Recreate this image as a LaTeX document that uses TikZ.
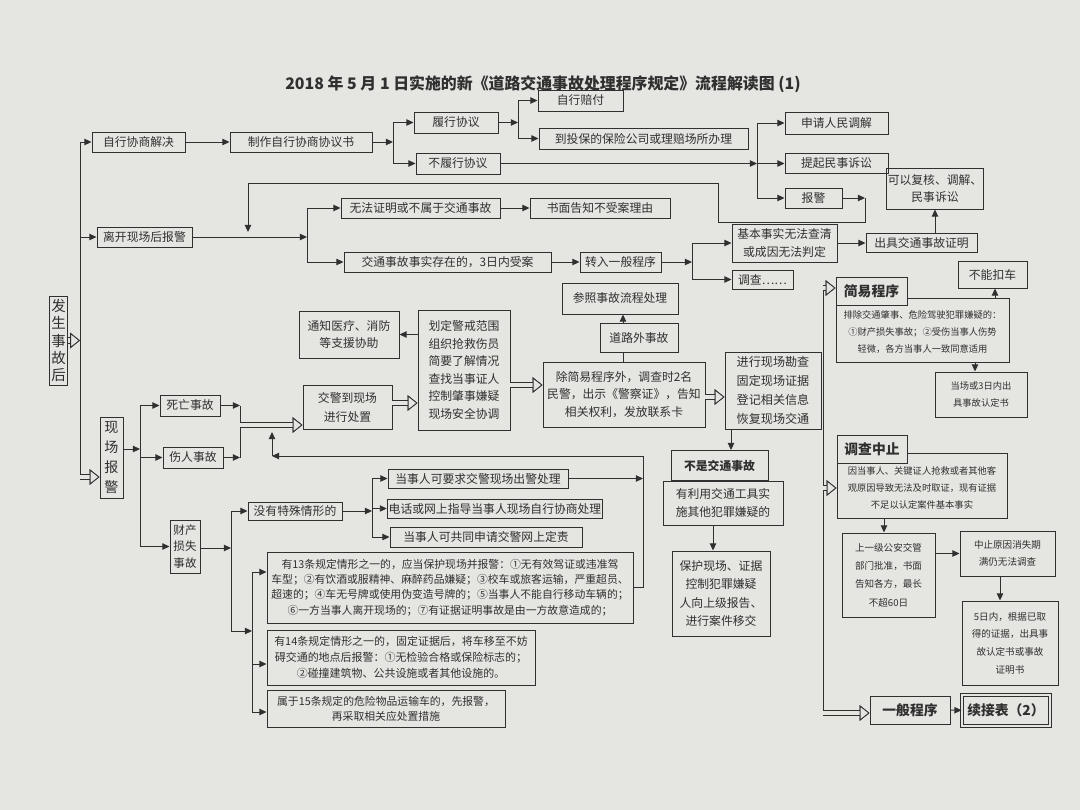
\documentclass[tikz,border=0pt]{standalone}
\usepackage{fontspec}
\setmainfont{Noto Sans CJK SC}
\usetikzlibrary{arrows.meta}

\definecolor{paper}{RGB}{229,229,226}
\definecolor{ink}{RGB}{48,48,48}

\newcommand\fs{\fontsize{8.4pt}{12.4pt}\selectfont}
\newcommand\fsm{\fontsize{7.7pt}{10.8pt}\selectfont}
\newcommand\fss{\fontsize{6.6pt}{12pt}\selectfont}
\newcommand\fsh{\fontsize{9.8pt}{12pt}\selectfont\bfseries}
\newcommand\fst{\fontsize{11.3pt}{13pt}\selectfont\bfseries}

\begin{document}
\begin{tikzpicture}[
    x=0.025cm, y=-0.025cm,
    box/.style={draw=ink, line width=0.7pt, text=ink, font=\fs, align=center,
                inner sep=1pt},
    sz/.style 2 args={minimum width=#1*0.025cm, minimum height=#2*0.025cm},
    head/.style={box, fill=paper, font=\fsh},
    small/.style={box, font=\fss},
    rule/.style={box, font=\fsm},
    vert/.style={box, font=\fontsize{10.3pt}{12.3pt}\selectfont},
    arr/.style={draw=ink, line width=0.7pt, -{Triangle[length=5pt,width=4.5pt]}},
    ln/.style={draw=ink, line width=0.7pt},
    hol/.style={draw=ink, line width=4.6pt,
                -{Triangle[open, fill=paper, color=ink, length=7pt, width=11pt, line width=0.6pt]},
                postaction={draw=paper, line width=3.4pt,
                -{Triangle[open, fill=paper, color=ink, length=7pt, width=11pt, line width=0.6pt]}}},
]
  \fill[paper] (0,0) rectangle (1080,810);
  \useasboundingbox (0,0) rectangle (1080,810);

  % Title
  \node[font=\fst, text=ink] (title) at (543,84)
    {2018 年 5 月 1 日实施的新《道路交通事故处理程序规定》流程解读图 (1)};

  % Start
  \node[vert, sz={17}{89}] (fs) at (58.5,340.5) {发\\生\\事\\故\\后};

  % Self negotiation
  \node[box, sz={93}{20}] (zx) at (138.5,142) {自行协商解决};
  \node[box, sz={142}{20}] (zz) at (301,142) {制作自行协商协议书};
  \node[box, sz={84}{21}] (lx) at (456,122.5) {履行协议};
  \node[box, sz={84}{21}] (blx) at (458,163.5) {不履行协议};
  \node[box, sz={85}{21}] (zxpf) at (580.5,100.5) {自行赔付};
  \node[box, sz={209}{21}] (bx) at (643.5,138.5) {到投保的保险公司或理赔场所办理};
  \node[box, sz={103}{22}] (tj) at (836.5,123) {申请人民调解};
  \node[box, sz={103}{20}] (ss) at (836.5,163.5) {提起民事诉讼};
  \node[box, sz={57}{20}] (bj) at (813.5,198) {报警};
  \node[box, sz={82}{41}] (fh) at (935,188.5) {可以复核、调解、\\民事诉讼};

  % Report after leaving
  \node[box, sz={95}{20}] (lk) at (144.5,237) {离开现场后报警};
  \node[box, sz={159}{20}] (wf) at (420.5,208) {无法证明或不属于交通事故};
  \node[box, sz={140}{20}] (sm) at (600,208) {书面告知不受案理由};
  \node[box, sz={207}{20}] (sa) at (447.5,262) {交通事故事实存在的，3日内受案};
  \node[box, sz={81}{20}] (zr) at (620.5,262) {转入一般程序};
  \node[box, sz={105}{38}] (jb) at (784.5,243) {基本事实无法查清\\或成因无法判定};
  \node[box, sz={61}{19}] (dc) at (762.5,279.5) {调查……};
  \node[box, sz={111}{19}] (zm) at (921.5,243) {出具交通事故证明};

  % Simple procedure
  \node[small, sz={173}{64}] (jyb) at (922.5,330)
    {\\[-3pt]排除交通肇事、危险驾驶犯罪嫌疑的：\\①财产损失事故；②受伤当事人伤势\\轻微，各方当事人一致同意适用};
  \node[head, sz={71}{28}] (jy) at (871.5,291) {简易程序};
  \node[box, sz={69}{27}] (bnk) at (992.5,274.5) {不能扣车};
  \node[small, sz={92}{45}] (dr) at (981,394.5) {当场或3日内出\\具事故认定书};

  % Suspended investigation
  \node[small, sz={170}{65}] (zzb) at (922,485.5)
    {\\[-3pt]因当事人、关键证人抢救或者其他客\\观原因导致无法及时取证，现有证据\\不足以认定案件基本事实};
  \node[head, sz={70}{28}] (zs) at (872,449) {调查中止};
  \node[small, sz={93}{84}, font=\fontsize{6.8pt}{13pt}\selectfont] (sj) at (888.5,575)
    {上一级公安交管\\部门批准，书面\\告知各方，最长\\不超60日};
  \node[small, sz={95}{45}, font=\fontsize{6.8pt}{12pt}\selectfont] (xs) at (1007.5,553.5)
    {中止原因消失期\\满仍无法调查};
  \node[small, sz={96}{84}, font=\fontsize{6.8pt}{12.6pt}\selectfont] (wr) at (1010,643)
    {5日内，根据已取\\得的证据，出具事\\故认定书或事故\\证明书};
  \node[head, sz={80}{28}] (yb) at (910,710) {一般程序};
  \node[head, sz={88}{31}, double=paper, double distance=1.6pt] (xj) at (1006,710.5)
    {续接表（2）};

  % On-site handling
  \node[box, sz={116}{31}] (ck) at (620,298.5) {参照事故流程处理};
  \node[box, sz={78}{29}] (dw) at (639,337.5) {道路外事故};
  \node[box, sz={162}{65}] (cj) at (624,394.5)
    {除简易程序外，调查时2名\\民警，出示《警察证》，告知\\相关权利，发放联系卡};
  \node[box, sz={92}{120}] (hd) at (464,370)
    {划定警戒范围\\组织抢救伤员\\简要了解情况\\查找当事证人\\控制肇事嫌疑\\现场安全协调};
  \node[box, sz={100}{47}] (tz) at (349,334.5) {通知医疗、消防\\等支援协助};
  \node[box, sz={89}{44}, font=\fontsize{8.4pt}{13.5pt}\selectfont] (jj) at (347.5,407)
    {交警到现场\\进行处置};
  \node[box, sz={96}{77}, font=\fontsize{8.6pt}{13.5pt}\selectfont] (kc) at (773,390.5)
    {进行现场勘查\\固定现场证据\\登记相关信息\\恢复现场交通};
  \node[box, sz={97}{30}, font=\fs\bfseries] (bs) at (719.5,465.5) {不是交通事故};
  \node[box, sz={120}{44}] (yl) at (723,503) {有利用交通工具实\\施其他犯罪嫌疑的};
  \node[box, sz={98}{85}, font=\fontsize{8.4pt}{13pt}\selectfont] (bh) at (721,593.5)
    {保护现场、证据\\控制犯罪嫌疑\\人向上级报告、\\进行案件移交};

  % On-site report
  \node[vert, sz={23}{81}, font=\fontsize{10pt}{14pt}\selectfont] (xc) at (111.5,457.5) {现\\场\\报\\警};
  \node[box, sz={60}{21}] (sw) at (190,405.5) {死亡事故};
  \node[box, sz={60}{21}] (sr) at (193,457.5) {伤人事故};
  \node[box, sz={30}{53}, font=\fontsize{8.2pt}{12pt}\selectfont] (cs) at (185,546.5) {财产\\损失\\事故};
  \node[box, sz={94}{18}] (mt) at (295,511) {没有特殊情形的};
  \node[box, sz={180}{19}] (dq) at (478,478.5) {当事人可要求交警现场出警处理};
  \node[box, sz={214}{19}] (dh) at (495,508.5) {电话或网上指导当事人现场自行协商处理};
  \node[box, sz={192}{20}] (dg) at (486,537) {当事人可共同申请交警网上定责};
  \node[rule, sz={366}{71}] (t13) at (450,587.5)
    {有13条规定情形之一的，应当保护现场并报警：①无有效驾证或违准驾\\
     车型；②有饮酒或服精神、麻醉药品嫌疑；③校车或旅客运输，严重超员、\\
     超速的；④车无号牌或使用伪变造号牌的；⑤当事人不能自行移动车辆的；\\
     ⑥一方当事人离开现场的；⑦有证据证明事故是由一方故意造成的；};
  \node[rule, sz={268}{55}, font=\fontsize{7.8pt}{11.6pt}\selectfont] (t14) at (401,657.5)
    {有14条规定情形之一的，固定证据后，将车移至不妨\\
     碍交通的地点后报警：①无检验合格或保险标志的；\\
     ②碰撞建筑物、公共设施或者其他设施的。};
  \node[rule, sz={238}{37}] (t15) at (386,708.5)
    {属于15条规定的危险物品运输车的，先报警，\\再采取相关应处置措施};

  % Trunk
  \coordinate (t1) at (80,142);
  \coordinate (t2) at (80,237);
  \coordinate (t3) at (80,477);
  \draw[ln] (t1) -- (t3);
  \draw[hol] (fs.east) -- (fs.east -| t1);
  \draw[arr] (t1) -- (zx);
  \draw[arr] (t2) -- (lk);
  \draw[hol] (t3) -- (t3 -| xc.west);

  % Row 1 links
  \coordinate (s1) at (393,142);
  \draw[arr] (zz) -- (s1);
  \draw[ln] (s1 |- lx) -- (s1 |- blx);
  \draw[arr] (s1 |- lx) -- (lx);
  \draw[arr] (s1 |- blx) -- (blx);
  \coordinate (s2) at (518,122.5);
  \draw[arr] (zx) -- (zz);
  \draw[arr] (lx) -- (s2);
  \draw[ln] (s2 |- zxpf) -- (s2 |- bx);
  \draw[arr] (s2 |- zxpf) -- (zxpf);
  \draw[arr] (s2 |- bx) -- (bx);
  \coordinate (s3) at (757,163.5);
  \draw[arr] (blx) -- (s3);
  \draw[ln] (s3 |- tj) -- (s3 |- bj);
  \draw[arr] (s3 |- tj) -- (tj);
  \draw[arr] (s3) -- (ss);
  \draw[arr] (s3 |- bj) -- (bj);
  \coordinate (s4) at (865,198);
  \coordinate (s5) at (248,232);
  \draw[arr] (bj) -- (s4);
  \draw[arr] (s4) -- (865,222) -- (718,222) -- (718,183) -- (248,183) -- (s5);

  % Row 2 links
  \coordinate (s6) at (307,237);
  \draw[arr] (lk) -- (s6);
  \draw[ln] (s6 |- wf) -- (s6 |- sa);
  \draw[arr] (s6 |- wf) -- (wf);
  \draw[arr] (s6 |- sa) -- (sa);
  \draw[arr] (wf) -- (sm);
  \draw[arr] (sa) -- (zr);
  \coordinate (s7) at (692,262);
  \draw[arr] (zr) -- (s7);
  \draw[ln] (s7 |- jb) -- (s7 |- dc);
  \draw[arr] (s7 |- jb) -- (jb);
  \draw[arr] (s7 |- dc) -- (dc);
  \draw[arr] (jb) -- (zm);
  \draw[arr] (zm.north -| fh.south) -- (fh.south);

  % Middle links
  \draw[arr] (hd.west |- tz.east) -- (tz.east);
  \draw[hol] (jj.east |- 0,403) -- (hd.west |- 0,403);
  \draw[hol] (hd.east |- 0,385) -- (cj.west |- 0,385);
  \draw[hol] (cj.east |- 0,397) -- (kc.west |- 0,397);
  \draw[ln] (cj.north -| 623,0) -- (dw.south -| 623,0);
  \draw[arr] (dw.north -| 623,0) -- (ck.south -| 623,0);
  \draw[arr] (kc.south -| 731,0) -- (bs.north -| 731,0);
  \draw[arr] (yl.south -| 713,0) -- (bh.north -| 713,0);

  % On-site report links
  \coordinate (b1) at (140,449);
  \draw[arr] (xc.east |- b1) -- (b1);
  \draw[ln] (b1 |- sw) -- (b1 |- cs);
  \draw[arr] (b1 |- sw) -- (sw);
  \draw[arr] (b1 |- sr) -- (sr);
  \draw[arr] (b1 |- cs) -- (cs);
  \coordinate (b2) at (240,405.5);
  \draw[arr] (sw) -- (b2);
  \draw[arr] (sr) -- (b2 |- sr);
  \draw[ln] (b2) -- (b2 |- sr);
  \draw[hol] (b2 |- 0,425) -- (jj.west |- 0,425);

  % Return line
  \coordinate (r1) at (643,456);
  \coordinate (r2) at (272,456);
  \draw[arr] (dq) -- (dq -| r1);
  \draw[ln] (t13.east) -- (t13.east -| r1) -- (r1);
  \draw[arr] (r1) -- (r2);
  \draw[arr] (r2) -- (r2 |- 0,432);

  % Property loss links
  \coordinate (c1) at (231,548);
  \coordinate (c2) at (252,631);
  \draw[arr] (cs.east |- c1) -- (c1);
  \draw[ln] (c1 |- mt) -- (c1 |- c2);
  \draw[arr] (c1 |- mt) -- (mt);
  \draw[arr] (c1 |- c2) -- (c2);
  \draw[ln] (c2 |- 0,572) -- (c2 |- 0,712);
  \draw[arr] (c2 |- 0,572) -- (t13.west |- 0,572);
  \draw[arr] (c2 |- 0,664) -- (t14.west |- 0,664);
  \draw[arr] (c2 |- 0,712) -- (t15.west |- 0,712);
  \coordinate (c3) at (372,511);
  \draw[arr] (mt) -- (c3);
  \draw[ln] (c3 |- dq) -- (c3 |- dg);
  \draw[arr] (c3 |- dq) -- (dq);
  \draw[arr] (c3 |- dh) -- (dh);
  \draw[arr] (c3 |- dg) -- (dg);

  % Right column
  \coordinate (v1) at (823,288);
  \coordinate (v2) at (823,713);
  \draw[ln] (v1) -- (v2);
  \draw[hol] (v1) -- (v1 -| jy.west);
  \draw[hol] (v1 |- 0,488) -- (zzb.west |- 0,488);
  \draw[hol] (v2) -- (v2 -| yb.west);
  \draw[arr] (jyb.north -| 995,0) -- (bnk.south -| 995,0);
  \draw[arr] (jyb.south -| 975,0) -- (dr.north -| 975,0);
  \draw[arr] (zzb.south -| 884,0) -- (sj.north -| 884,0);
  \draw[arr] (sj.east |- xs) -- (xs.west);
  \draw[arr] (xs.south -| 1000,0) -- (wr.north -| 1000,0);
  \draw[arr] (yb) -- (xj);

\end{tikzpicture}
\end{document}
